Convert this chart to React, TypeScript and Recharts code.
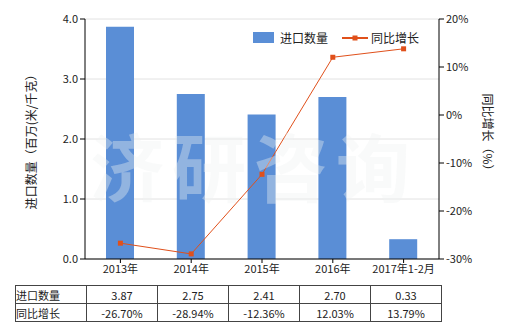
import React from 'react';
import {
    Bar,
    CartesianGrid,
    ComposedChart,
    Line,
    XAxis,
    YAxis,
} from 'recharts';

const years = ['2013年', '2014年', '2015年', '2016年', '2017年1-2月'];
const imports = [3.87, 2.75, 2.41, 2.7, 0.33];
const growth = [-26.7, -28.94, -12.36, 12.03, 13.79];
const leftTicks = [0, 1, 2, 3, 4];
const rightTicks = [-30, -20, -10, 0, 10, 20];

const BAR = '#5A8ED6';
const LINE = '#E0501B';
const FONT = '"Noto Sans CJK SC", "DejaVu Sans", sans-serif';

const data = years.map((y, i) => ({ year: y, imports: imports[i], growth: growth[i] }));

const SquareDot = (p: any) => (
    <rect x={p.cx - 2.5} y={p.cy - 2.5} width={5} height={5} fill={LINE} />
);

const LegendBox = () => (
    <div
        style={{
            position: 'absolute',
            left: 253,
            top: 29,
            display: 'flex',
            alignItems: 'center',
            fontSize: 12,
            color: '#222',
        }}
    >
        <span style={{ width: 21, height: 11, background: BAR, display: 'inline-block', marginRight: 6 }} />
        <span style={{ marginRight: 14 }}>进口数量</span>
        <svg width={26} height={10} style={{ marginRight: 3 }}>
            <line x1={0} y1={5} x2={26} y2={5} stroke={LINE} strokeWidth={2} />
            <rect x={10.5} y={2.5} width={5} height={5} fill={LINE} />
        </svg>
        <span>同比增长</span>
    </div>
);

const cell: React.CSSProperties = {
    border: '1px solid #444',
    height: 17,
    padding: 0,
    textAlign: 'center',
    width: 70,
};

export default function App() {
    return (
        <div style={{ position: 'absolute', left: 0, top: 0, width: 520, height: 330, background: '#fff', fontFamily: FONT }}>
            <ComposedChart
                width={520}
                height={281}
                data={data}
                margin={{ top: 19, right: 0, left: 0, bottom: 0 }}
            >
                <CartesianGrid vertical={false} stroke="#e2e2e2" yAxisId="left" />
                <XAxis
                    dataKey="year"
                    height={22}
                    stroke="#000"
                    tickSize={4}
                    tick={{ fill: '#222', fontSize: 11 }}
                />
                <YAxis
                    yAxisId="left"
                    width={85}
                    domain={[0, 4]}
                    ticks={leftTicks}
                    stroke="#000"
                    tickSize={5}
                    tick={{ fill: '#222', fontSize: 11 }}
                    tickFormatter={(v: number) => v.toFixed(1)}
                    label={(props: any) => {
                        const vb = props.viewBox;
                        const cx = vb.x + 30;
                        const cy = vb.y + vb.height / 2;
                        return (
                            <text x={cx} y={cy} transform={`rotate(-90 ${cx} ${cy})`} textAnchor="middle" dominantBaseline="central" fontSize={12} fill="#222">
                                进口数量（百万(米/千克）
                            </text>
                        );
                    }}
                />
                <YAxis
                    yAxisId="right"
                    orientation="right"
                    width={81}
                    domain={[-30, 20]}
                    ticks={rightTicks}
                    stroke="#000"
                    tickSize={5}
                    tick={{ fill: '#222', fontSize: 11 }}
                    tickFormatter={(v: number) => `${v}%`}
                    label={(props: any) => {
                        const vb = props.viewBox;
                        const cx = vb.x + 49;
                        const cy = vb.y + vb.height / 2 - 4;
                        return (
                            <text x={cx} y={cy} transform={`rotate(90 ${cx} ${cy})`} textAnchor="middle" dominantBaseline="central" fontSize={12} fill="#222">
                                同比增长（%）
                            </text>
                        );
                    }}
                />
                <Bar yAxisId="left" dataKey="imports" fill={BAR} barSize={28} isAnimationActive={false} />
                <Line
                    yAxisId="right"
                    dataKey="growth"
                    stroke={LINE}
                    strokeWidth={1}
                    dot={<SquareDot />}
                    activeDot={false}
                    isAnimationActive={false}
                />
            </ComposedChart>
            <LegendBox />
            <div
                style={{
                    position: 'absolute',
                    left: 90,
                    top: 127,
                    fontSize: 74,
                    lineHeight: 1,
                    fontWeight: 'bold',
                    color: 'rgba(240,243,243,0.38)',
                    letterSpacing: 8,
                    whiteSpace: 'nowrap',
                    pointerEvents: 'none',
                }}
            >
                济研咨询
            </div>
            <table
                style={{
                    position: 'absolute',
                    left: 15,
                    top: 285,
                    borderCollapse: 'collapse',
                    fontSize: 11,
                    color: '#222',
                    tableLayout: 'fixed',
                }}
            >
                <tbody>
                    <tr>
                        <td style={{ ...cell, textAlign: 'left' }}>进口数量</td>
                        {imports.map((v, i) => (
                            <td key={i} style={cell}>{v.toFixed(2)}</td>
                        ))}
                    </tr>
                    <tr>
                        <td style={{ ...cell, textAlign: 'left' }}>同比增长</td>
                        {growth.map((v, i) => (
                            <td key={i} style={cell}>{v.toFixed(2)}%</td>
                        ))}
                    </tr>
                </tbody>
            </table>
        </div>
    );
}
